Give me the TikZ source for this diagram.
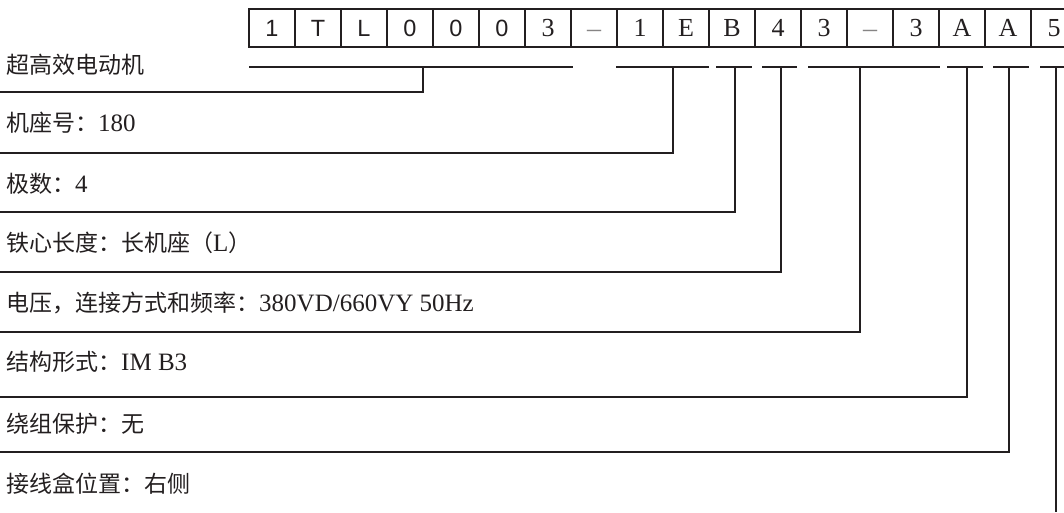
\documentclass[tikz,border=0pt]{standalone}
\usepackage{fontspec}
\setmainfont{Liberation Serif}
\newfontfamily\cjk{Noto Sans CJK SC}
\newfontfamily\sansf{Liberation Sans}
\definecolor{ink}{HTML}{231F20}
\newcommand{\lat}{\rmfamily\fontsize{25}{28}\selectfont}
\tikzset{
  cellbox/.style={draw=ink, line width=1.6pt, minimum width=46pt, minimum height=38pt, inner sep=0pt, text=ink},
  lab/.style={anchor=west, inner sep=0pt, text=ink, font=\fontsize{23}{28}\selectfont},
  conn/.style={draw=ink, line width=1.4pt},
}
\begin{document}
\begin{tikzpicture}[x=1pt, y=-1pt]
\useasboundingbox (0,0) rectangle (1064,512);
\begin{scope}
\clip (0,0) rectangle (1064,512);
% code cells
\foreach \i/\t in {0/1,1/T,2/L,3/0,4/0,5/0}{
  \node[cellbox, font=\sansf\fontsize{23.5}{26}\selectfont] (c\i) at (272+46*\i, 28) {\t};
}
\foreach \i/\t in {6/3,8/1,9/E,10/B,11/4,12/3,14/3,15/A,16/A,17/5}{
  \node[cellbox, font=\fontsize{26}{28}\selectfont] (c\i) at (272+46*\i, 28) {\t};
}
\foreach \i in {7,13}{
  \node[cellbox, font=\fontsize{28}{28}\selectfont, text=ink!55] (c\i) at (272+46*\i, 28) {\vphantom{3}–};
}
% segments under the cells
\coordinate (s1a) at (249,67);  \coordinate (s1b) at (573,67);
\coordinate (s2a) at (616,67);  \coordinate (s2b) at (709,67);
\coordinate (s3a) at (716,67);  \coordinate (s3b) at (752,67);
\coordinate (s4a) at (762,67);  \coordinate (s4b) at (797,67);
\coordinate (s5a) at (808,67);  \coordinate (s5b) at (940,67);
\coordinate (s6a) at (947,67);  \coordinate (s6b) at (983,67);
\coordinate (s7a) at (993,67);  \coordinate (s7b) at (1029,67);
\coordinate (s8a) at (1040,67); \coordinate (s8b) at (1075,67);
\foreach \k in {1,...,8}{ \draw[conn] (s\k a) -- (s\k b); }
% vertical take-offs
\coordinate (v1) at (423,67);  \coordinate (e1) at (0,92);
\coordinate (v2) at (673,67);  \coordinate (e2) at (0,153);
\coordinate (v3) at (735,67);  \coordinate (e3) at (0,212);
\coordinate (v4) at (781,67);  \coordinate (e4) at (0,272);
\coordinate (v5) at (860,67);  \coordinate (e5) at (0,332);
\coordinate (v6) at (967,67);  \coordinate (e6) at (0,397);
\coordinate (v7) at (1009,67); \coordinate (e7) at (0,452);
\foreach \k in {1,...,7}{ \draw[conn] (v\k) |- (e\k); }
\coordinate (v8) at (1056,67); \coordinate (e8) at (1056,512);
\draw[conn] (v8) -- (e8);
\end{scope}
% labels
\node[lab] (l1) at (6,65) {\cjk 超高效电动机};
\node[lab] (l2) at (6,123) {\cjk 机座号：\lat 180};
\node[lab] (l3) at (6,184) {\cjk 极数：\lat 4};
\node[lab] (l4) at (6,243) {\cjk 铁心长度：长机座（\lat L\cjk\fontsize{23}{28}\selectfont ）};
\node[lab] (l5) at (6,303) {\cjk 电压，连接方式和频率：\lat 380VD/660VY 50Hz};
\node[lab] (l6) at (6,362) {\cjk 结构形式：\lat IM B3};
\node[lab] (l7) at (6,424) {\cjk 绕组保护：无};
\node[lab] (l8) at (6,484) {\cjk 接线盒位置：右侧};
\end{tikzpicture}
\end{document}
